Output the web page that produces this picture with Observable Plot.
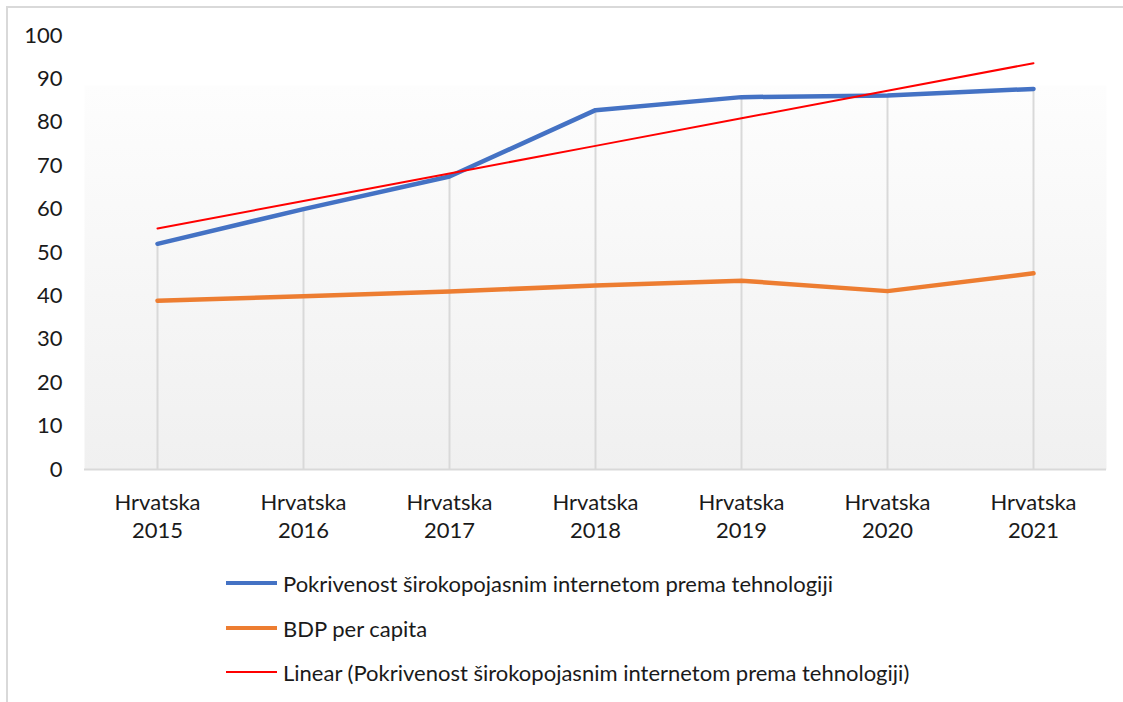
<!DOCTYPE html>
<html>
<head>
<meta charset="utf-8">
<script src="https://cdn.jsdelivr.net/npm/d3@7"></script>
<script src="https://cdn.jsdelivr.net/npm/@observablehq/plot@0.6"></script>
<style>
  html, body { margin: 0; padding: 0; background: #fff; overflow: hidden; }
  body { width: 1123px; height: 702px; position: relative; font-family: Lato, "Open Sans", sans-serif; }
  #frame { position: absolute; left: 6px; top: 6px; width: 1130px; height: 720px; border-top: 2px solid #d9d9d9; border-left: 2px solid #d9d9d9; }
  #chart { position: absolute; left: 0; top: 0; }
  #legend { position: absolute; left: 0; top: 0; width: 1123px; height: 702px; pointer-events: none; }
  .row { position: absolute; left: 226px; height: 30px; display: flex; align-items: center; font-size: 22px; color: #1a1a1a; white-space: nowrap; }
  .swatch { width: 51px; margin-right: 6px; }
</style>
</head>
<body>
<div id="frame"></div>
<div id="chart"></div>
<div id="legend"></div>
<script>
const categories = ["Hrvatska 2015", "Hrvatska 2016", "Hrvatska 2017", "Hrvatska 2018", "Hrvatska 2019", "Hrvatska 2020", "Hrvatska 2021"];
const broadband = [52.0, 60.0, 67.5, 82.8, 85.8, 86.2, 87.7];
const gdp = [38.9, 39.9, 41.0, 42.4, 43.5, 41.1, 45.2];
const yTicks = [0, 10, 20, 30, 40, 50, 60, 70, 80, 90, 100];
const seriesNames = [
  "Pokrivenost širokopojasnim internetom prema tehnologiji",
  "BDP per capita",
  "Linear (Pokrivenost širokopojasnim internetom prema tehnologiji)"
];
const seriesColors = ["#4472C4", "#ED7D31", "#FF0000"];
const seriesWidths = [4.5, 4.5, 2];

// linear trend of broadband series (least squares on category index)
const n = broadband.length;
const xs = d3.range(n);
const mx = d3.mean(xs), my = d3.mean(broadband);
const slope = d3.sum(xs, i => (i - mx) * (broadband[i] - my)) / d3.sum(xs, i => (i - mx) ** 2);
const intercept = my - slope * mx;
const trend = xs.map(i => intercept + slope * i);

const bbData = categories.map((c, i) => ({cat: c, v: broadband[i]}));
const gdpData = categories.map((c, i) => ({cat: c, v: gdp[i]}));
const trendData = categories.map((c, i) => ({cat: c, v: trend[i]}));
const dropData = categories.map((c, i) => ({cat: c, v: Math.max(broadband[i], gdp[i])}));

const defsMark = () => {
  const ns = "http://www.w3.org/2000/svg";
  const defs = document.createElementNS(ns, "defs");
  const grad = document.createElementNS(ns, "linearGradient");
  grad.setAttribute("id", "bgGrad");
  grad.setAttribute("x1", "0"); grad.setAttribute("y1", "0");
  grad.setAttribute("x2", "0"); grad.setAttribute("y2", "1");
  [["0", "#ffffff"], ["0.114", "#ffffff"], ["0.116", "#fdfdfd"], ["1", "#f0f0f0"]].forEach(([o, c]) => {
    const s = document.createElementNS(ns, "stop");
    s.setAttribute("offset", o); s.setAttribute("stop-color", c);
    grad.appendChild(s);
  });
  defs.appendChild(grad);
  return defs;
};

const chart = Plot.plot({
  width: 1123,
  height: 560,
  marginLeft: 84,
  marginRight: 17,
  marginTop: 35,
  marginBottom: 91,
  style: {fontFamily: "Lato, 'Open Sans', sans-serif", fontSize: "22px", color: "#1a1a1a", background: "transparent", overflow: "visible"},
  x: {type: "point", domain: categories, padding: 0.5},
  y: {domain: [0, 100]},
  marks: [
    defsMark,
    Plot.frame({fill: "url(#bgGrad)", stroke: null}),
    Plot.ruleX(dropData, {x: "cat", y1: 0, y2: "v", stroke: "#d9d9d9", strokeWidth: 2}),
    Plot.ruleY([0], {stroke: "#d9d9d9", strokeWidth: 2}),
    Plot.axisY({ticks: yTicks, tickSize: 0, tickPadding: 22, fontSize: 22, label: null}),
    Plot.axisX({tickSize: 0, tickPadding: 21, fontSize: 22, lineHeight: 1.25, label: null, tickFormat: d => d.replace(" ", "\n")}),
    Plot.line(gdpData, {x: "cat", y: "v", stroke: seriesColors[1], strokeWidth: seriesWidths[1], strokeLinejoin: "round", strokeLinecap: "round"}),
    Plot.line(bbData, {x: "cat", y: "v", stroke: seriesColors[0], strokeWidth: seriesWidths[0], strokeLinejoin: "round", strokeLinecap: "round"}),
    Plot.line(trendData, {x: "cat", y: "v", stroke: seriesColors[2], strokeWidth: seriesWidths[2]})
  ]
});
document.getElementById("chart").appendChild(chart);

const legend = document.getElementById("legend");
const rowTops = [568, 613, 657];
seriesNames.forEach((name, i) => {
  const row = document.createElement("div");
  row.className = "row";
  row.style.top = rowTops[i] + "px";
  const sw = document.createElement("div");
  sw.className = "swatch";
  sw.style.height = seriesWidths[i] + "px";
  sw.style.background = seriesColors[i];
  const t = document.createElement("span");
  t.textContent = name;
  row.appendChild(sw);
  row.appendChild(t);
  legend.appendChild(row);
});
</script>
</body>
</html>
